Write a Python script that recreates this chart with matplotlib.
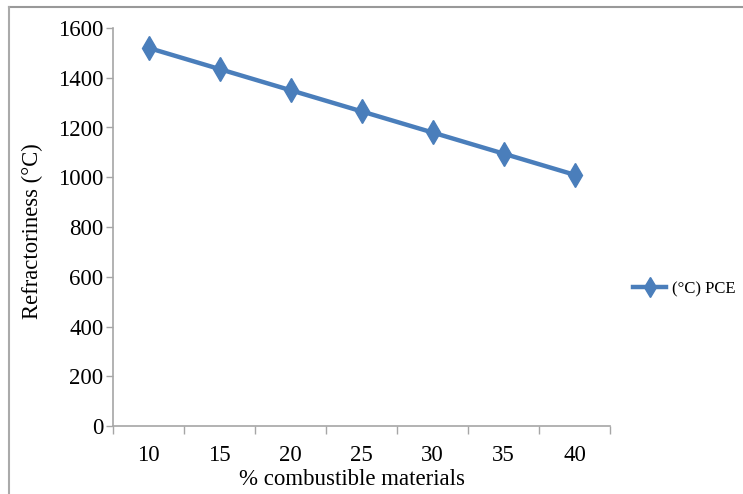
import matplotlib
matplotlib.use("Agg")
import matplotlib.pyplot as plt
from matplotlib.lines import Line2D
from matplotlib.ticker import FixedLocator, NullFormatter

plt.rcParams['font.family'] = ['Liberation Serif', 'DejaVu Serif']

categories = ["10", "15", "20", "25", "30", "35", "40"]
pce_values = [1520, 1435, 1350, 1265, 1180, 1095, 1010]
series_name = "(°C) PCE"
yticks = [0, 200, 400, 600, 800, 1000, 1200, 1400, 1600]

color = "#4A7EBB"
grey = "#A6A6A6"

fig = plt.figure(figsize=(7.43, 4.94), dpi=100)
ax = fig.add_axes([113/743, 1-426/494, (610-113)/743, (426-28)/494])

x = list(range(len(categories)))
line, = ax.plot(x, pce_values, color=color, lw=3.2, marker='d', markersize=12,
                markeredgecolor=color, markerfacecolor=color, label=series_name)

ax.set_xlim(-0.5, len(categories) - 0.5)
ax.set_ylim(0, 1600)
ax.set_yticks(yticks)
ax.set_yticklabels([str(v) for v in yticks])
ax.set_xticks(x)
ax.set_xticklabels(categories)
ax.xaxis.set_minor_locator(FixedLocator([i - 0.5 for i in range(len(categories) + 1)]))
ax.xaxis.set_minor_formatter(NullFormatter())
ax.tick_params(axis='x', which='major', length=0, pad=14, labelsize=16.5)
ax.tick_params(axis='x', which='minor', length=6, color=grey, width=1)
ax.tick_params(axis='y', length=5, color=grey, width=1, pad=2, labelsize=16.5)

for s in ['top', 'right']:
    ax.spines[s].set_visible(False)
for s in ['left', 'bottom']:
    ax.spines[s].set_color(grey)
    ax.spines[s].set_linewidth(1.2)

fig.text(352/743, 1-479/494, "% combustible materials", fontsize=16.5,
         ha='center', va='center')
fig.text(32/743, 1-231/494, "Refractoriness (°C)", fontsize=16.3,
         ha='center', va='center', rotation=90)

fig.legend(handles=[line], labels=[series_name], loc='center left',
           bbox_to_anchor=(618/743, 1-289/494), frameon=False, fontsize=12,
           handlelength=2.0, handletextpad=0.35, markerscale=0.85)

# outer border (top and left visible)
fig.add_artist(Line2D([8.5/743, 1], [1-7.5/494, 1-7.5/494], transform=fig.transFigure,
                      color="#999999", lw=1.5))
fig.add_artist(Line2D([8.5/743, 8.5/743], [0, 1-7.5/494], transform=fig.transFigure,
                      color="#AAAAAA", lw=1.5))

fig.savefig("out.png", dpi=100)
